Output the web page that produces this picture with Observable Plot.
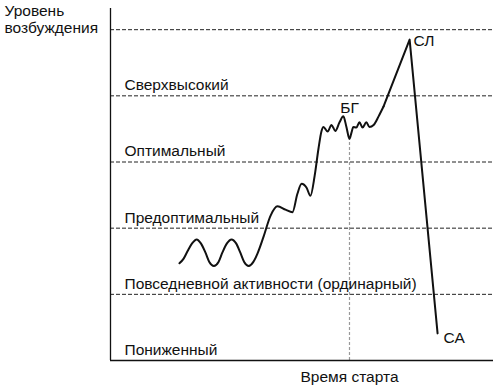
<!DOCTYPE html>
<html>
<head>
<meta charset="utf-8">
<script src="https://cdn.jsdelivr.net/npm/d3@7"></script>
<script src="https://cdn.jsdelivr.net/npm/@observablehq/plot@0.6"></script>
<style>
  html, body { margin: 0; padding: 0; background: #fff; }
  #chart svg { display: block; }
</style>
</head>
<body>
<div id="chart"></div>
<script>
// Arousal levels (band boundaries) and band labels
const levels = [1, 2, 3, 4, 5];
const bandNames = [
  "Пониженный",
  "Повседневной активности (ординарный)",
  "Предоптимальный",
  "Оптимальный",
  "Сверхвысокий"
];
const bandLevel = [0, 1, 2, 3, 4];

// Arousal curve (time, level) — smooth part
const curveTime = [18.0, 19.1, 20.1, 21.3, 22.5, 23.6, 24.8, 25.8, 27.0, 28.2, 29.2, 30.4, 31.6, 32.8, 33.9, 34.9, 36.1, 37.3, 38.4, 39.9, 41.8, 43.6, 45.7, 47.5, 48.8, 49.9, 51.2, 52.2, 53.3, 54.3, 55.1, 55.6, 56.7, 57.7, 58.7, 59.8, 60.8, 61.6, 62.4, 62.9, 63.4, 64.2, 65.0, 65.8, 66.8, 67.6, 68.7, 70.0, 71.3];
const curveLevel = [1.47, 1.54, 1.65, 1.77, 1.83, 1.77, 1.63, 1.49, 1.43, 1.49, 1.63, 1.77, 1.83, 1.77, 1.63, 1.49, 1.43, 1.49, 1.62, 1.86, 2.19, 2.33, 2.28, 2.24, 2.52, 2.67, 2.61, 2.49, 2.79, 3.20, 3.47, 3.53, 3.46, 3.56, 3.47, 3.60, 3.69, 3.53, 3.35, 3.44, 3.53, 3.52, 3.60, 3.52, 3.60, 3.53, 3.56, 3.69, 3.84];

// Straight part: rise to СЛ, then fall to СА
const peakTime = [71.3, 78.1, 85.4];
const peakLevel = [3.84, 4.85, 0.41];

// Start time
const startTime = 62.4;
const startLevel = 3.35;

// Point labels
const pointNames = ["БГ", "СЛ", "СА"];

const xMax = 100, yMax = 5.32;

const smooth = curveTime.map((t, i) => ({t, v: curveLevel[i]}));
const straight = peakTime.map((t, i) => ({t, v: peakLevel[i]}));
const bands = bandNames.map((name, i) => ({name, v: bandLevel[i] + 0.16}));

const font = "'Liberation Sans', Arial, Helvetica, sans-serif";
const fs = 15.5;

const chart = Plot.plot({
  width: 500,
  height: 388,
  marginLeft: 110,
  marginRight: 7,
  marginTop: 8,
  marginBottom: 28,
  style: {fontFamily: font, fontSize: fs + "px", color: "#111", background: "#fff", overflow: "visible"},
  x: {domain: [0, xMax], axis: null},
  y: {domain: [0, yMax], axis: null},
  marks: [
    // band boundaries
    Plot.ruleY(levels, {x1: 0, x2: xMax, stroke: "#222", strokeWidth: 1, strokeDasharray: "4,2"}),
    // start time
    Plot.ruleX([startTime], {y1: 0, y2: startLevel, stroke: "#999", strokeWidth: 1.2, strokeDasharray: "3,2"}),
    // axes
    Plot.ruleX([0], {y1: 0, y2: yMax, stroke: "#111", strokeWidth: 1.3}),
    Plot.ruleY([0], {x1: 0, x2: xMax, stroke: "#111", strokeWidth: 1.3}),
    // curve
    Plot.line(smooth, {x: "t", y: "v", curve: "monotone-x", stroke: "#111", strokeWidth: 2}),
    Plot.line(straight, {x: "t", y: "v", curve: "linear", stroke: "#111", strokeWidth: 2}),
    // band labels
    Plot.text(bands, {x: 0, y: "v", text: "name", textAnchor: "start", dx: 14, fill: "#111", fontSize: fs}),
    // point labels
    Plot.text([pointNames[0]], {x: startTime, y: 3.82, text: d => d, textAnchor: "middle", fill: "#111", fontSize: fs}),
    Plot.text([pointNames[1]], {x: peakTime[1], y: peakLevel[1], text: d => d, textAnchor: "start", dx: 4, dy: 1, fill: "#111", fontSize: fs}),
    Plot.text([pointNames[2]], {x: peakTime[2], y: peakLevel[2], text: d => d, textAnchor: "start", dx: 6, dy: 5, fill: "#111", fontSize: fs}),
    // axis titles
    Plot.text(["Уровень\nвозбуждения"], {x: 0, y: yMax, text: d => d, textAnchor: "start", lineAnchor: "top", dx: -106, dy: -4, lineHeight: 1.07, fill: "#111", fontSize: fs}),
    Plot.text(["Время старта"], {x: startTime, y: 0, text: d => d, textAnchor: "middle", dy: 17, fill: "#111", fontSize: fs})
  ]
});
document.getElementById("chart").appendChild(chart);
</script>
</body>
</html>
